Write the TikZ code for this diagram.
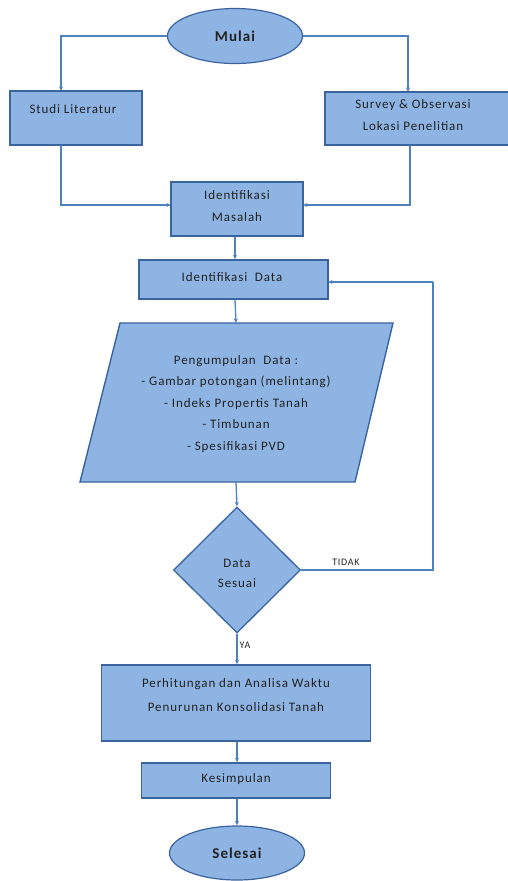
\documentclass[tikz,border=0pt]{standalone}
\usepackage{fontspec}
\setmainfont{Carlito}
\newfontfamily\widefont[LetterSpace=7]{Carlito}
\usetikzlibrary{shapes.geometric,arrows.meta}
\definecolor{fillb}{HTML}{8EB4E3}
\definecolor{edgeb}{HTML}{3A64A0}
\definecolor{linkb}{HTML}{4F81BD}
\definecolor{txt}{HTML}{222222}
\begin{document}
\begin{tikzpicture}[x=1pt,y=-1pt,
  box/.style={draw=edgeb,fill=fillb,line width=1.4pt,rectangle,inner sep=0pt},
  oval/.style={draw=edgeb,fill=fillb,line width=1.2pt,ellipse,inner sep=0pt,font=\widefont\fontsize{15}{17}\selectfont\bfseries,text=txt},
  lbl/.style={text=txt,font=\widefont\fontsize{13}{22}\selectfont,align=center,inner sep=0pt},
  small/.style={text=txt,font=\widefont\fontsize{10}{11}\selectfont,inner sep=0pt},
  link/.style={draw=linkb,line width=1.3pt,-{Stealth[length=4.5pt,width=4pt]}}]
\useasboundingbox (0,0) rectangle (507,881);
% nodes
\node[oval,minimum width=135,minimum height=55] (mulai) at (235,36) {Mulai};
\node[box,minimum width=132,minimum height=54] (studi) at (76,118) {};
\node[lbl] (studiT) at (73,109) {Studi Literatur};
\node[box,minimum width=184,minimum height=53] (survey) at (417,118.5) {};
\node[lbl] (surveyT) at (413,115.5) {Survey \& Observasi\\Lokasi Penelitian};
\node[box,minimum width=132,minimum height=54] (imas) at (237,209) {};
\node[lbl] (imasT) at (237,206.5) {Identifikasi\\Masalah};
\node[box,minimum width=189,minimum height=39] (idata) at (233.5,279.5) {};
\node[lbl] (idataT) at (232,277) {Identifikasi\ \ Data};
% parallelogram
\filldraw[draw=edgeb,fill=fillb,line width=1.4pt] (120,323) -- (393,323) -- (355,482) -- (80,482) -- cycle;
\coordinate (pTop) at (236,323);
\coordinate (pBot) at (236,482);
\node[lbl,align=center,font=\widefont\fontsize{13}{21.5}\selectfont] (pT) at (236,404) {Pengumpulan\ \ Data :\\- Gambar potongan (melintang)\\- Indeks Propertis Tanah\\- Timbunan\\- Spesifikasi PVD};
\node[draw=edgeb,fill=fillb,line width=1.3pt,diamond,aspect=1,minimum width=127,minimum height=126,inner sep=0pt] (dia) at (237,570) {};
\node[lbl,font=\widefont\fontsize{13}{20}\selectfont] (diaT) at (237,573) {Data\\Sesuai};
\node[box,minimum width=269,minimum height=76] (hit) at (236,703) {};
\node[lbl,font=\widefont\fontsize{13}{24}\selectfont] (hitT) at (236,695) {Perhitungan dan Analisa Waktu\\Penurunan Konsolidasi Tanah};
\node[box,minimum width=189,minimum height=35] (kes) at (236,780.5) {};
\node[lbl] (kesT) at (236,779) {Kesimpulan};
\node[oval,minimum width=135,minimum height=54] (sel) at (237,853) {Selesai};
\node[small] (tidak) at (346,562) {TIDAK};
\node[small] (ya) at (245,645) {YA};
% bend coordinates
\coordinate (sL) at (61,91);
\coordinate (sR) at (408,92);
\coordinate (sLb) at (61,145);
\coordinate (sRb) at (410,145);
\coordinate (mL) at (171,205);
\coordinate (mR) at (303,205);
\coordinate (fbIn) at (328,282);
\coordinate (fbC) at (433,282);
% connectors
\draw[link] (mulai.west) -| (sL);
\draw[link] (mulai.east) -| (sR);
\draw[link] (sLb) |- (mL);
\draw[link] (sRb) |- (mR);
\draw[link] (imas.south -| 235,0) -- (idata.north -| 235,0);
\draw[link] (idata.south -| 235,0) -- (pTop);
\draw[link] (pBot) -- (dia.north);
\draw[draw=linkb,line width=1.3pt] (dia.east) -| (fbC);
\draw[link] (fbC) -- (fbIn);
\draw[link] (dia.south) -- (hit.north -| dia.south);
\draw[link] (hit.south -| dia.south) -- (kes.north -| dia.south);
\draw[link] (kes.south -| dia.south) -- (sel.north);
\end{tikzpicture}
\end{document}
